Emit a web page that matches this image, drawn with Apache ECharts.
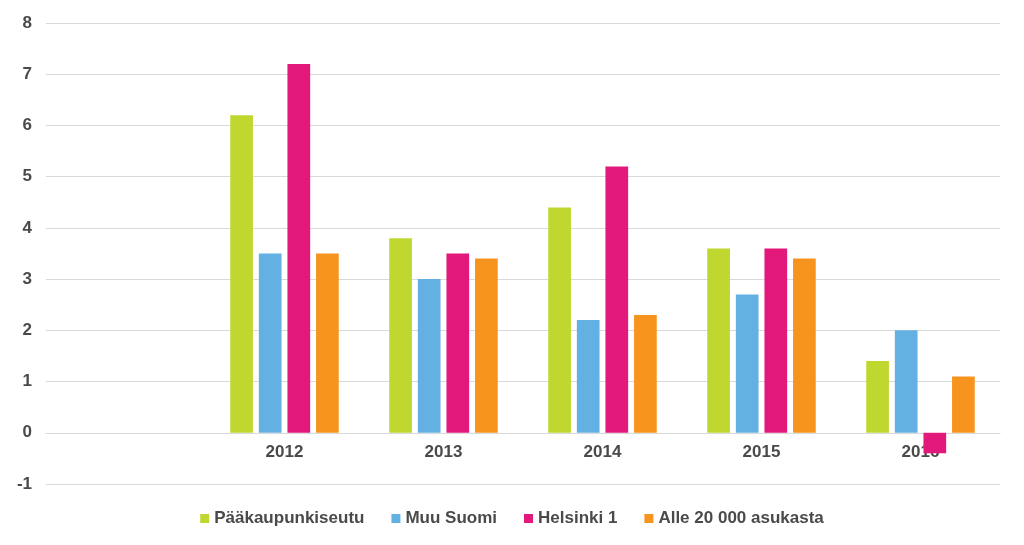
<!DOCTYPE html>
<html><head><meta charset="utf-8">
<script src="https://cdn.jsdelivr.net/npm/echarts@6/dist/echarts.min.js"></script>
<style>html,body{margin:0;padding:0;background:#fff}#c{width:1024px;height:545px}</style>
</head><body><div id="c"></div>
<script>
const categories = ['', '2012', '2013', '2014', '2015', '2016'];
const seriesNames = ['Pääkaupunkiseutu', 'Muu Suomi', 'Helsinki 1', 'Alle 20 000 asukasta'];
const paakaupunkiseutu = [null, 6.2, 3.8, 4.4, 3.6, 1.4];
const muuSuomi = [null, 3.5, 3.0, 2.2, 2.7, 2.0];
const helsinki1 = [null, 7.2, 3.5, 5.2, 3.6, -0.4];
const alle20000 = [null, 3.5, 3.4, 2.3, 3.4, 1.1];
const colors = ['#C0D72F', '#63B1E3', '#E2187A', '#F7941D'];
const values = [paakaupunkiseutu, muuSuomi, helsinki1, alle20000];

const chart = echarts.init(document.getElementById('c'));
const font = {fontFamily: 'Liberation Sans, Arial, sans-serif', fontWeight: 'bold', fontSize: 17, color: '#4a4a4a'};
chart.setOption({
  animation: false,
  color: colors,
  grid: {left: 46, right: 24, top: 23, bottom: 61},
  legend: {
    top: 505, left: 'center', itemWidth: 9, itemHeight: 9, itemGap: 27, icon: 'rect',
    textStyle: Object.assign({}, font),
    data: seriesNames
  },
  xAxis: {
    type: 'category', data: categories,
    offset: -51.2,
    axisLine: {onZero: false, lineStyle: {color: '#D9D9D9'}},
    axisTick: {show: false},
    axisLabel: Object.assign({}, font, {margin: 11})
  },
  yAxis: {
    type: 'value', min: -1, max: 8, interval: 1,
    axisLine: {show: false}, axisTick: {show: false},
    splitLine: {lineStyle: {color: '#D9D9D9', width: 1}},
    axisLabel: Object.assign({}, font, {margin: 14})
  },
  series: values.map((v, i) => ({
    name: seriesNames[i], type: 'bar', data: v,
    barWidth: 22.7, barGap: '26%', z: 3
  }))
});
</script></body></html>
